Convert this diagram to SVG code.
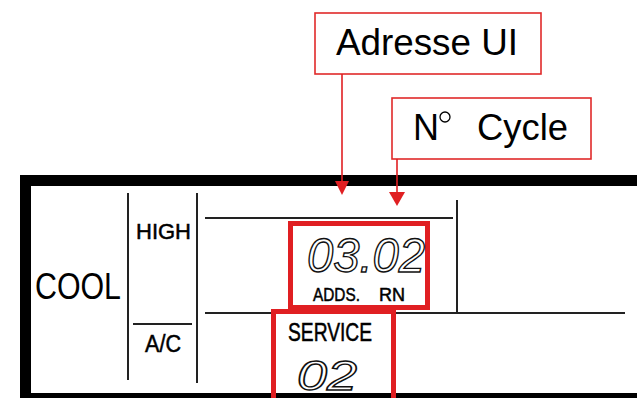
<svg xmlns="http://www.w3.org/2000/svg" width="637" height="398" viewBox="0 0 637 398">
<style>
.lbl{font-family:"Liberation Sans",Arial,sans-serif;fill:#000}
.cond{stroke:#000;stroke-width:0.5}
.lcd{font-family:"Liberation Sans",Arial,sans-serif;font-style:italic;fill:#fff;stroke:#111;stroke-width:1.4}
.thin{stroke:#222;stroke-width:2;fill:none}
.redbox{fill:none;stroke:#e01f22;stroke-width:5}
.callout{fill:#fff;stroke:#e02a2a;stroke-width:1.6}
.conn{stroke:#e01f22;stroke-width:1.6;fill:none}
.head{fill:#e01f22}
</style>
<rect width="637" height="398" fill="#fff"/>
<g id="panel">
<rect x="25.5" y="180.5" width="700" height="218" fill="none" stroke="#000" stroke-width="11"/>
<line class="thin" x1="128" y1="193" x2="128" y2="380"/>
<line class="thin" x1="197" y1="193" x2="197" y2="383"/>
<line class="thin" x1="133" y1="324" x2="192" y2="324"/>
<line class="thin" x1="205" y1="218" x2="453" y2="218"/>
<line class="thin" x1="205" y1="313" x2="625" y2="313"/>
<line class="thin" x1="457" y1="200" x2="457" y2="313"/>
<text class="lbl" x="35" y="299" font-size="37" textLength="86" lengthAdjust="spacingAndGlyphs">COOL</text>
<text class="lbl cond" x="136" y="239" font-size="22" textLength="55" lengthAdjust="spacingAndGlyphs">HIGH</text>
<text class="lbl cond" x="145" y="352" font-size="23" textLength="36" lengthAdjust="spacingAndGlyphs">A/C</text>
</g>
<g id="addr-display">
<rect class="redbox" x="290.5" y="223.5" width="137" height="84"/>
<text class="lcd" x="307" y="272" font-size="48" textLength="118" lengthAdjust="spacingAndGlyphs">03.02</text>
<text class="lbl cond" y="301" font-size="19"><tspan x="313" textLength="47" lengthAdjust="spacingAndGlyphs">ADDS.</tspan><tspan x="379" textLength="26" lengthAdjust="spacingAndGlyphs">RN</tspan></text>
</g>
<g id="service-display">
<rect class="redbox" x="273.5" y="311.5" width="120" height="95"/>
<text class="lbl cond" x="288" y="341" font-size="25" textLength="84" lengthAdjust="spacingAndGlyphs">SERVICE</text>
<text class="lcd" x="297" y="390" font-size="42" textLength="60" lengthAdjust="spacingAndGlyphs">02</text>
</g>
<g id="adresse-ui">
<rect class="callout" x="315" y="13" width="226" height="61"/>
<text class="lbl" x="336" y="55" font-size="36" textLength="182" lengthAdjust="spacingAndGlyphs">Adresse UI</text>
</g>
<g id="n-cycle">
<rect class="callout" x="392" y="98" width="199" height="61"/>
<text class="lbl" x="413" y="140" font-size="36">N</text>
<circle cx="445" cy="117" r="5" fill="none" stroke="#000" stroke-width="1.3"/>
<text class="lbl" x="477" y="140" font-size="36" textLength="91" lengthAdjust="spacingAndGlyphs">Cycle</text>
</g>
<g id="connectors">
<line class="conn" x1="342" y1="74" x2="342" y2="183"/>
<polygon class="head" points="335,181 349,181 342,195"/>
<line class="conn" x1="397" y1="159" x2="397" y2="194"/>
<polygon class="head" points="389,192 405,192 397,206"/>
</g>
</svg>
